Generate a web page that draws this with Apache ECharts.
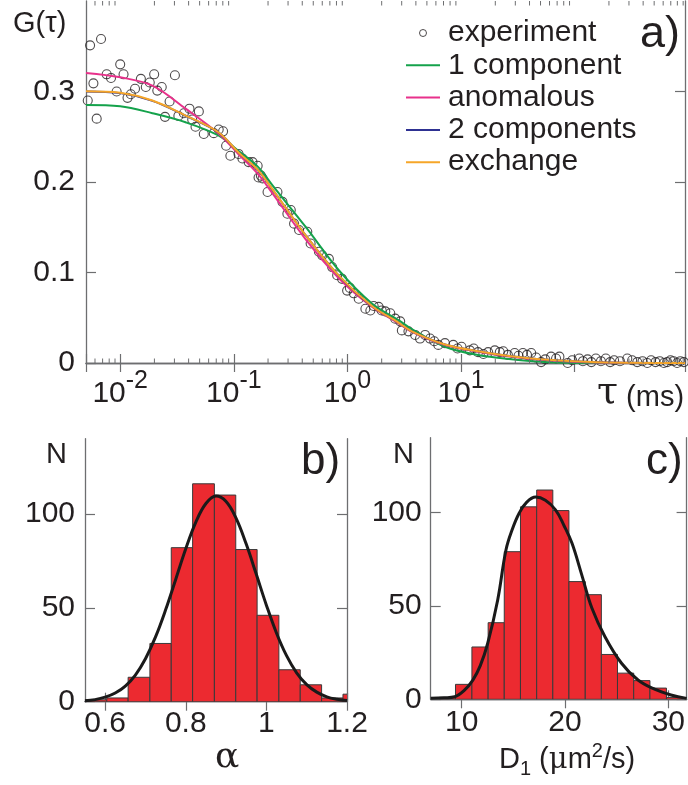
<!DOCTYPE html>
<html><head><meta charset="utf-8">
<script src="https://cdn.jsdelivr.net/npm/echarts@6/dist/echarts.min.js"></script>
<style>html,body{margin:0;padding:0;background:#fff}#c{width:688px;height:785px}</style>
</head><body><div id="c"></div>
<script>
// ---------- panel a: FCS autocorrelation ----------
const expTau = [0.00518,0.00543,0.00581,0.00621,0.00678,0.0076,0.0083,0.0093,0.0100,0.0107,0.0116,0.0124,0.0135,0.0152,0.0168,0.0182,0.0199,0.0212,0.0232,0.0248,0.0272,0.0303,0.0325,0.0363,0.0407,0.0430,0.0460,0.0492,0.0544,0.0666,0.0736,0.0804,0.0855,0.0932,0.110,0.119,0.135,0.146,0.162,0.165,0.173,0.179,0.198,0.242,0.268,0.296,0.317,0.339,0.375,0.443,0.474,0.561,0.600,0.686,0.733,0.811,0.897,0.993,1.05,1.136,1.256,1.438,1.590,1.70,1.880,2.00,2.151,2.38,2.63,2.91,3.01,3.44,3.94,4.35,4.82,5.33,5.8,6.30,7.21,8.53,9.3,10.08,11.94,12.9,14.1,15.7,17.3,19.8,21.9,23.5,25.8,29.6,32,35.0,38,41.4,45.7,50.6,55,61.9,68.5,73.3,86.7,95,109.7,118,129.7,140,153.4,170,187.6,205,222,250,290,320,355,395,435,470,514,560,609,650,696,740,796,850,912];
const expG = [0.290,0.351,0.309,0.270,0.358,0.319,0.315,0.300,0.330,0.319,0.293,0.297,0.303,0.314,0.305,0.310,0.319,0.301,0.305,0.272,0.289,0.318,0.273,0.276,0.281,0.269,0.261,0.278,0.253,0.254,0.258,0.256,0.240,0.229,0.231,0.226,0.222,0.222,0.218,0.205,0.207,0.204,0.189,0.189,0.178,0.165,0.169,0.154,0.147,0.145,0.132,0.123,0.119,0.115,0.106,0.097,0.093,0.080,0.083,0.077,0.071,0.060,0.058,0.063,0.062,0.058,0.057,0.055,0.049,0.046,0.036,0.035,0.031,0.027,0.031,0.027,0.024,0.020,0.022,0.020,0.016,0.018,0.014,0.016,0.012,0.010,0.012,0.014,0.012,0.013,0.009,0.011,0.008,0.011,0.009,0.011,0.006,0.001,0.004,0.007,0.005,0.007,0.000,0.003,0.005,0.002,0.004,0.001,0.005,0.002,0.005,0.001,0.003,0.002,0.005,0.003,0.001,0.002,0.000,0.003,0.001,0.002,0.000,0.001,0.003,0.002,0.000,0.002,0.001];
const fitTau   = [0.005,0.01,0.0192,0.0376,0.0731,0.110,0.164,0.219,0.429,0.839,1.64,2.81,3.68,7.21,14.1,27.6,54.2,158,934];
const fit1comp = [0.2852,0.2837,0.2760,0.2660,0.2514,0.2343,0.2164,0.1962,0.1503,0.1025,0.0658,0.0474,0.0375,0.0180,0.0088,0.0041,0.0011,0.0,0.0];
const fitAnom  = [0.3205,0.3157,0.3065,0.2811,0.2536,0.2307,0.2084,0.1874,0.1367,0.0937,0.0621,0.0438,0.0345,0.0198,0.0125,0.0069,0.0033,0.0006,0.0];
const fit2comp = [0.3000,0.2982,0.2897,0.2732,0.2549,0.2325,0.2127,0.1917,0.1410,0.0964,0.0630,0.0447,0.0350,0.0205,0.0130,0.0075,0.0038,0.0008,0.0];
const fitExch  = [0.3002,0.2985,0.2900,0.2734,0.2550,0.2326,0.2128,0.1918,0.1411,0.0965,0.0630,0.0447,0.0350,0.0205,0.0130,0.0075,0.0038,0.0008,0.0];
const tauLabelExps = [-2,-1,0,1];
const gTicks = [0,0.1,0.2,0.3];
// ---------- panel b: alpha histogram ----------
const alphaEdges  = [0.551,0.604,0.657,0.711,0.764,0.817,0.871,0.924,0.977,1.031,1.084,1.137,1.190,1.243];
const alphaCounts = [1,2,13,31,82,116,110,81,46,17,9,2,4];
const alphaFitX = [0.55,0.575,0.6,0.625,0.65,0.675,0.7,0.725,0.75,0.775,0.8,0.825,0.85,0.875,0.9,0.925,0.95,0.975,1.0,1.025,1.05,1.075,1.1,1.125,1.15,1.175,1.2];
const alphaFitN = [0.5,1.1,2.4,4.6,8.3,14.2,22.9,34.5,48.9,65.1,81.4,95.6,105.5,109.5,106.6,97.6,83.9,67.8,51.4,36.6,24.5,15.4,9.1,5.1,2.6,1.3,0.6];
const alphaTicks = [0.6,0.8,1,1.2];
// ---------- panel c: D1 histogram ----------
const dEdges  = [7.82,9.40,10.99,12.56,14.12,15.69,17.26,18.82,20.38,21.96,23.52,25.08,26.65,28.22,29.82,31.38];
const dCounts = [1,8,28,41,79,103,112,101,63,56,24,14,10,6,1];
const dFitX = [7.0,8.3,9.33,10.2,11.08,11.8,12.52,13.48,14.29,14.9,15.56,16.3,17.16,18.1,19.08,19.9,20.67,21.6,22.59,23.87,25.47,27.07,28.67,30.26,31.77];
const dFitN = [0.5,0.8,1.4,4.5,10.3,18,30,53,80,91,99.6,105.5,108.2,106.5,101.4,93,83.6,67,49,33.5,19.3,10.3,5.4,2.3,0.5];
const dTicks = [10,20,30];
const nTicks = [0,50,100];

const FONT = '"Liberation Sans", Arial, Helvetica, sans-serif';
const SERIF = '"DejaVu Serif", "Liberation Serif", serif';
const INK = '#231f20';
const AX = '#6d6e70';
const TAU_MIN = 0.005, TAU_MAX = 934;

const zip = (a, b) => a.map((v, i) => [v, b[i]]);
const bins = (e, c) => c.map((n, i) => [e[i], e[i + 1], n]);

const minorTau = [];
for (let k = -3; k <= 2; k++) for (let m = 2; m <= 9; m++) {
  const v = m * Math.pow(10, k);
  if (v > TAU_MIN && v < TAU_MAX) minorTau.push([v, 0]);
}

const lineAx = {show: true, lineStyle: {color: AX, width: 1.3}};
const labelStyle = {fontSize: 30, fontFamily: FONT, color: INK};
function hideAxisLabels() { return {show: false}; }

const chart = echarts.init(document.getElementById('c'), null, {renderer: 'canvas'});

const histItem = (color) => function (params, api) {
  const p0 = api.coord([api.value(0), api.value(2)]);
  const p1 = api.coord([api.value(1), 0]);
  return {type: 'rect', shape: {x: p0[0], y: p0[1], width: p1[0] - p0[0], height: p1[1] - p0[1]},
    style: {fill: color, stroke: '#3a3a3a', lineWidth: 1}};
};
const tickStyle = {color: AX, width: 1.2};

const option = {
  animation: false,
  backgroundColor: '#fff',
  grid: [
    {left: 86, top: 1, right: 0, bottom: 422},
    {left: 85, top: 438.7, right: 341, bottom: 83.3},
    {left: 430.7, top: 437.7, right: -1, bottom: 85.7}
  ],
  xAxis: [
    {type: 'log', gridIndex: 0, min: TAU_MIN, max: TAU_MAX, logBase: 10, position: 'bottom',
      axisLine: lineAx, splitLine: {show: false},
      axisTick: {inside: true, length: 9, lineStyle: tickStyle},
      axisLabel: {margin: 6, formatter: function (v) {
          const e = Math.log10(v), r = Math.round(e);
          if (Math.abs(e - r) > 1e-6 || tauLabelExps.indexOf(r) < 0) return '';
          return '{b|10}{s|' + r + '}';
        },
        rich: {b: {fontSize: 30, lineHeight: 40, fontFamily: FONT, color: INK, verticalAlign: 'bottom'},
               s: {fontSize: 25, lineHeight: 20, fontFamily: FONT, color: INK, verticalAlign: 'top'}}}},
    {type: 'log', gridIndex: 0, min: TAU_MIN, max: TAU_MAX, logBase: 10, position: 'top',
      axisLine: lineAx, splitLine: {show: false},
      axisTick: {inside: true, length: 9, lineStyle: tickStyle}, axisLabel: hideAxisLabels()},
    {type: 'value', gridIndex: 1, min: 0.55, max: 1.2, position: 'bottom', axisLine: lineAx, splitLine: {show: false},
      axisTick: {inside: true, length: 9, customValues: alphaTicks, lineStyle: tickStyle},
      axisLabel: Object.assign({margin: 7, customValues: alphaTicks}, labelStyle)},
    {type: 'value', gridIndex: 1, min: 0.55, max: 1.2, position: 'top', axisLine: lineAx, splitLine: {show: false},
      axisTick: {inside: true, length: 9, customValues: alphaTicks, lineStyle: tickStyle}, axisLabel: hideAxisLabels()},
    {type: 'value', gridIndex: 2, min: 7, max: 31.77, position: 'bottom', axisLine: lineAx, splitLine: {show: false},
      axisTick: {inside: true, length: 9, customValues: dTicks, lineStyle: tickStyle},
      axisLabel: Object.assign({margin: 8, customValues: dTicks}, labelStyle)},
    {type: 'value', gridIndex: 2, min: 7, max: 31.77, position: 'top', axisLine: lineAx, splitLine: {show: false},
      axisTick: {inside: true, length: 9, customValues: dTicks, lineStyle: tickStyle}, axisLabel: hideAxisLabels()}
  ],
  yAxis: [
    {type: 'value', gridIndex: 0, min: 0, max: 0.4, position: 'left', axisLine: lineAx, splitLine: {show: false},
      axisTick: {inside: true, length: 10, customValues: gTicks, lineStyle: tickStyle},
      axisLabel: Object.assign({margin: 11, customValues: gTicks}, labelStyle)},
    {type: 'value', gridIndex: 0, min: 0, max: 0.4, position: 'right', axisLine: lineAx, splitLine: {show: false},
      axisTick: {inside: true, length: 10, customValues: gTicks, lineStyle: tickStyle}, axisLabel: hideAxisLabels()},
    {type: 'value', gridIndex: 1, min: 0, max: 140, position: 'left', axisLine: lineAx, splitLine: {show: false},
      axisTick: {inside: true, length: 10, customValues: nTicks, lineStyle: tickStyle},
      axisLabel: Object.assign({margin: 10, customValues: nTicks}, labelStyle)},
    {type: 'value', gridIndex: 1, min: 0, max: 140, position: 'right', axisLine: lineAx, splitLine: {show: false},
      axisTick: {inside: true, length: 10, customValues: nTicks, lineStyle: tickStyle}, axisLabel: hideAxisLabels()},
    {type: 'value', gridIndex: 2, min: 0, max: 140, position: 'left', axisLine: lineAx, splitLine: {show: false},
      axisTick: {inside: true, length: 10, customValues: nTicks, lineStyle: tickStyle},
      axisLabel: Object.assign({margin: 9, customValues: nTicks}, labelStyle)},
    {type: 'value', gridIndex: 2, min: 0, max: 140, position: 'right', axisLine: lineAx, splitLine: {show: false},
      axisTick: {inside: true, length: 10, customValues: nTicks, lineStyle: tickStyle}, axisLabel: hideAxisLabels()}
  ],
  legend: {
    orient: 'vertical', left: 405, top: 18, padding: 0, itemWidth: 34, itemHeight: 7, itemGap: 2.3,
    selectedMode: false,
    textStyle: {fontSize: 30, lineHeight: 30, fontFamily: FONT, color: INK, padding: [0, 0, 0, 3]},
    data: [
      {name: 'experiment', icon: 'circle', itemStyle: {color: 'rgba(255,255,255,0)', borderColor: INK, borderWidth: 1}},
      {name: '1 component', itemStyle: {opacity: 0}},
      {name: 'anomalous', itemStyle: {opacity: 0}},
      {name: '2 components', itemStyle: {opacity: 0}},
      {name: 'exchange', itemStyle: {opacity: 0}}
    ]
  },
  graphic: [
    {type: 'text', left: 13, top: 9, style: {text: 'G(τ)', font: '29px ' + FONT, fill: INK}},
    {type: 'text', left: 640, top: 12, style: {text: 'a)', font: '45px ' + FONT, fill: INK}},
    {type: 'text', left: 597, top: 374, style: {text: '{t|τ}{u| (ms)}', rich: {
      t: {fontSize: 38, fontFamily: SERIF, fill: INK, lineHeight: 40, verticalAlign: 'bottom'},
      u: {fontSize: 29, fontFamily: FONT, fill: INK, lineHeight: 36, verticalAlign: 'bottom'}}}},
    {type: 'text', left: 46, top: 440, style: {text: 'N', font: '29px ' + FONT, fill: INK}},
    {type: 'text', left: 301, top: 440, style: {text: 'b)', font: '44px ' + FONT, fill: INK}},
    {type: 'text', left: 215, top: 740, style: {text: 'α', font: '36px ' + SERIF, fill: INK}},
    {type: 'text', left: 393, top: 440, style: {text: 'N', font: '29px ' + FONT, fill: INK}},
    {type: 'text', left: 646, top: 440, style: {text: 'c)', font: '44px ' + FONT, fill: INK}},
    {type: 'text', left: 499, top: 741, style: {text: '{d|D}{sub|1}{d| (}{mu|μ}{d|m}{sup|2}{d|/s)}', rich: {
      d: {fontSize: 29, fontFamily: FONT, fill: INK, lineHeight: 38, verticalAlign: 'middle'},
      mu: {fontSize: 29, fontFamily: SERIF, fill: INK, lineHeight: 38, verticalAlign: 'middle'},
      sub: {fontSize: 20, fontFamily: FONT, fill: INK, lineHeight: 18, verticalAlign: 'bottom'},
      sup: {fontSize: 20, fontFamily: FONT, fill: INK, lineHeight: 30, verticalAlign: 'top'}}}}
  ],
  series: [
    {name: 'experiment', type: 'scatter', xAxisIndex: 0, yAxisIndex: 0, data: zip(expTau, expG),
      symbol: 'circle', symbolSize: 9, itemStyle: {color: 'rgba(255,255,255,0)', borderColor: INK, borderWidth: 1.1}, z: 2},
    {name: '1 component', type: 'line', xAxisIndex: 0, yAxisIndex: 0, data: zip(fitTau, fit1comp),
      symbol: 'none', smooth: 0.35, lineStyle: {color: '#14a24b', width: 2}, itemStyle: {color: '#14a24b'}, z: 3},
    {name: 'anomalous', type: 'line', xAxisIndex: 0, yAxisIndex: 0, data: zip(fitTau, fitAnom),
      symbol: 'none', smooth: 0.35, lineStyle: {color: '#e8318b', width: 2}, itemStyle: {color: '#e8318b'}, z: 3},
    {name: '2 components', type: 'line', xAxisIndex: 0, yAxisIndex: 0, data: zip(fitTau, fit2comp),
      symbol: 'none', smooth: 0.35, lineStyle: {color: '#2e3192', width: 2}, itemStyle: {color: '#2e3192'}, z: 3},
    {name: 'exchange', type: 'line', xAxisIndex: 0, yAxisIndex: 0, data: zip(fitTau, fitExch),
      symbol: 'none', smooth: 0.35, lineStyle: {color: '#f6a629', width: 2}, itemStyle: {color: '#f6a629'}, z: 4},
    {type: 'custom', xAxisIndex: 0, yAxisIndex: 0, data: minorTau, silent: true, z: 5,
      renderItem: function (params, api) {
        const v = api.value(0);
        const b = api.coord([v, 0]), t = api.coord([v, 0.4]);
        return {type: 'group', children: [
          {type: 'line', shape: {x1: b[0], y1: b[1], x2: b[0], y2: b[1] - 4.5}, style: {stroke: AX, lineWidth: 1}},
          {type: 'line', shape: {x1: t[0], y1: t[1], x2: t[0], y2: t[1] + 4.5}, style: {stroke: AX, lineWidth: 1}}
        ]};
      }},
    {type: 'custom', xAxisIndex: 2, yAxisIndex: 2, data: bins(alphaEdges, alphaCounts), clip: true,
      encode: {x: [0, 1], y: 2}, renderItem: histItem('#ec2a30'), z: 2},
    {type: 'line', xAxisIndex: 2, yAxisIndex: 2, data: zip(alphaFitX, alphaFitN), symbol: 'none', smooth: 0.4,
      lineStyle: {color: '#1a1a1a', width: 3}, z: 3},
    {type: 'custom', xAxisIndex: 4, yAxisIndex: 4, data: bins(dEdges, dCounts), clip: true,
      encode: {x: [0, 1], y: 2}, renderItem: histItem('#ec2a30'), z: 2},
    {type: 'line', xAxisIndex: 4, yAxisIndex: 4, data: zip(dFitX, dFitN), symbol: 'none', smooth: 0.4,
      lineStyle: {color: '#1a1a1a', width: 3}, z: 3}
  ]
};
chart.setOption(option);
</script></body></html>
